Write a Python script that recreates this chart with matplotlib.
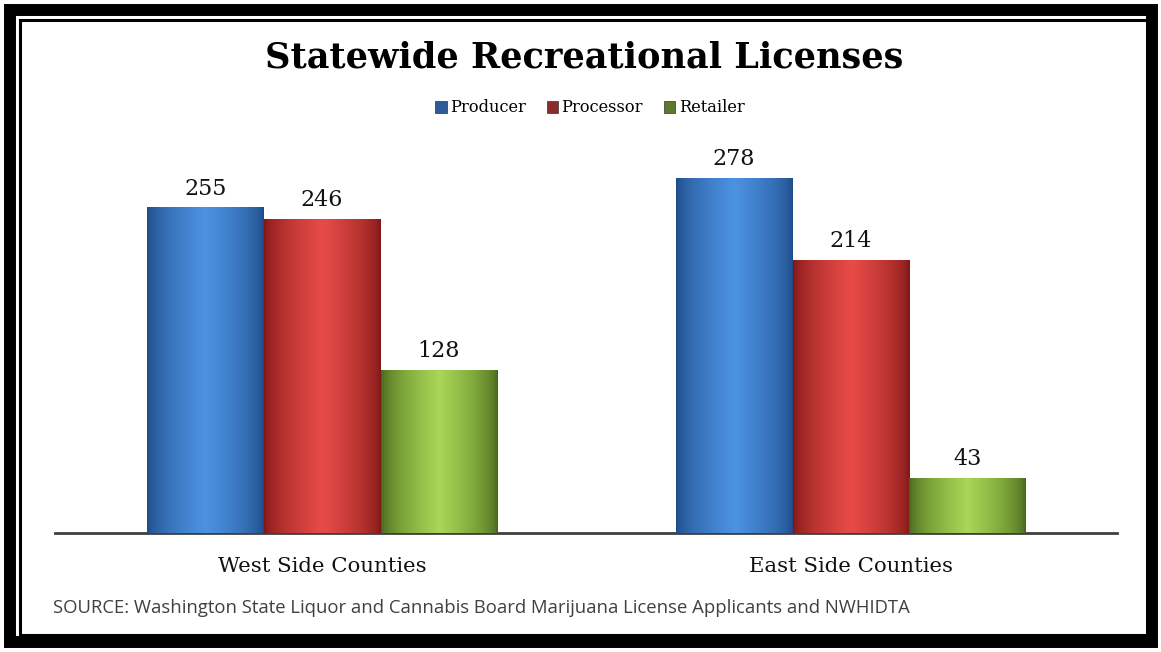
import numpy as np
import matplotlib
matplotlib.use("Agg")
import matplotlib.pyplot as plt
from matplotlib.patches import Rectangle, Patch
from matplotlib.colors import LinearSegmentedColormap

categories = ["West Side Counties", "East Side Counties"]
series = ["Producer", "Processor", "Retailer"]
producer = [255, 278]
processor = [246, 214]
retailer = [128, 43]
source_note = "SOURCE: Washington State Liquor and Cannabis Board Marijuana License Applicants and NWHIDTA"

# edge, center colours for the cylinder look
shades = {
    "Producer": ("#1d4a86", "#4c92e2"),
    "Processor": ("#7e1616", "#e84b47"),
    "Retailer": ("#46661a", "#a8d656"),
}
legend_colors = {"Producer": "#2d5b98", "Processor": "#8c2a2c", "Retailer": "#5d7a2c"}
SERIF = "DejaVu Serif"

W, H = 1161, 652
fig = plt.figure(figsize=(W / 100, H / 100), dpi=100)
fig.patch.set_facecolor("white")

ax = fig.add_axes([55 / W, (H - 533) / H, (1117 - 55) / W, (533 - 150) / H])
x = np.arange(len(categories))
width = 0.221
values = [producer, processor, retailer]

grad = np.concatenate([np.linspace(0, 1, 64), np.linspace(1, 0, 64)]).reshape(1, -1)
for i, (name, vals) in enumerate(zip(series, values)):
    bars = ax.bar(x + (i - 1) * width, vals, width, color=shades[name][1], edgecolor="none", zorder=2)
    cmap = LinearSegmentedColormap.from_list(name, [shades[name][0], shades[name][1]])
    for b, v in zip(bars, vals):
        bx, by = b.get_x(), b.get_y()
        im = ax.imshow(grad ** 0.6, cmap=cmap, aspect="auto", zorder=3,
                       extent=[bx, bx + b.get_width(), by, by + b.get_height()])
        im.set_clip_path(b)
        ax.text(bx + b.get_width() / 2, v + 6, str(v), ha="center", va="bottom",
                fontsize=16, family=SERIF, color="#111111", zorder=4)

ax.set_xlim(-0.505, 1.503)
ax.set_ylim(0, 300)
for s in ["top", "right", "left"]:
    ax.spines[s].set_visible(False)
ax.spines["bottom"].set_color("#404040")
ax.spines["bottom"].set_linewidth(2)
ax.set_yticks([])
ax.set_xticks(x)
ax.set_xticklabels(categories, fontsize=15.3, family=SERIF, color="#111111")
ax.tick_params(axis="x", length=0, pad=17)

fig.text(0.503, (H - 58) / H, "Statewide Recreational Licenses", ha="center", va="center",
         fontsize=25.3, fontweight="bold", family=SERIF)

handles = [Patch(facecolor=legend_colors[s], edgecolor="#333333", linewidth=0.5, label=s) for s in series]
fig.legend(handles=handles, loc="center", bbox_to_anchor=(0.508, (H - 108) / H), ncol=3,
           frameon=False, prop={"family": SERIF, "size": 11.7},
           handlelength=0.7, handleheight=0.7, handletextpad=0.2, columnspacing=1.3)

fig.text(53 / W, (H - 608) / H, source_note, ha="left", va="center",
         fontsize=13.3, family="Open Sans", color="#404040")

# double frame
fig.patches.append(Rectangle((10 / W, 10 / H), 1 - 19 / W, 1 - 20 / H, transform=fig.transFigure,
                             fill=False, edgecolor="black", linewidth=8.6, zorder=10))
fig.patches.append(Rectangle((20 / W, 17 / H), 1 - 34 / W, 1 - 37 / H, transform=fig.transFigure,
                             fill=False, edgecolor="black", linewidth=2.2, zorder=10))

fig.savefig("out.png", dpi=100)
